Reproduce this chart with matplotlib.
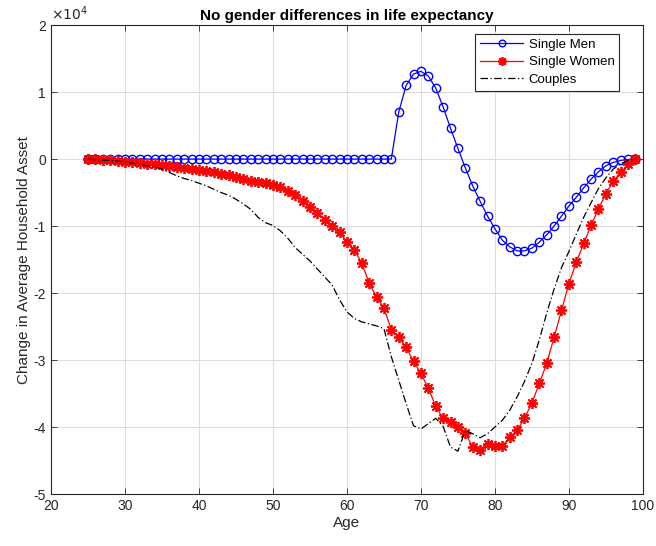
import numpy as np
import matplotlib
matplotlib.use("Agg")
import matplotlib.pyplot as plt
from matplotlib.ticker import FuncFormatter

plt.rcParams['font.family'] = ['Liberation Sans', 'DejaVu Sans']

ages = list(range(25, 100))

# values in units of 1e4
single_men = [0.0] * 42 + [
    0.70, 1.10, 1.27, 1.31, 1.24, 1.06, 0.78, 0.46, 0.16, -0.13,
    -0.40, -0.63, -0.85, -1.04, -1.21, -1.31, -1.37, -1.37, -1.33, -1.24,
    -1.13, -1.00, -0.85, -0.70, -0.57, -0.43, -0.30, -0.19, -0.10, -0.05,
    -0.02, -0.005, 0.0]

single_women = [
    0.0, -0.005, -0.01, -0.02, -0.03, -0.04, -0.05, -0.06, -0.07, -0.08,
    -0.09, -0.10, -0.12, -0.13, -0.15, -0.17, -0.18, -0.20, -0.22, -0.24,
    -0.26, -0.29, -0.32, -0.34, -0.35, -0.38, -0.42, -0.47, -0.54, -0.62,
    -0.72, -0.80, -0.91, -1.00, -1.09, -1.24, -1.36, -1.55, -1.85, -2.06,
    -2.22, -2.55, -2.66, -2.81, -3.02, -3.20, -3.42, -3.69, -3.87, -3.92,
    -4.00, -4.09, -4.30, -4.34, -4.25, -4.29, -4.29, -4.15, -4.05, -3.87,
    -3.64, -3.35, -3.05, -2.66, -2.26, -1.86, -1.54, -1.26, -0.99, -0.74,
    -0.52, -0.33, -0.20, -0.08, 0.0]

couples = [
    0.0, -0.01, -0.015, -0.02, -0.03, -0.04, -0.06, -0.08, -0.10, -0.12,
    -0.15, -0.20, -0.25, -0.29, -0.32, -0.36, -0.40, -0.45, -0.50, -0.54,
    -0.60, -0.67, -0.75, -0.87, -0.95, -0.99, -1.07, -1.18, -1.32, -1.42,
    -1.52, -1.64, -1.76, -1.88, -2.10, -2.28, -2.38, -2.43, -2.46, -2.49,
    -2.53, -2.95, -3.30, -3.65, -3.98, -4.03, -3.95, -3.87, -3.99, -4.30,
    -4.36, -4.05, -4.10, -4.16, -4.10, -4.00, -3.90, -3.75, -3.55, -3.32,
    -3.05, -2.70, -2.30, -1.94, -1.62, -1.38, -1.12, -0.87, -0.65, -0.44,
    -0.28, -0.15, -0.07, -0.02, 0.0]

scale = 1e4
men = np.array(single_men) * scale
women = np.array(single_women) * scale
coup = np.array(couples) * scale

fig = plt.figure(figsize=(6.56, 5.46), dpi=100)
ax = fig.add_axes([0.0777, 0.0952, 0.9023, 0.8588])

ax.plot(ages, men, color="#0000ff", linewidth=0.9, marker="o", markersize=6,
        markerfacecolor="none", markeredgewidth=1.0, label="Single Men")
ax.plot(ages, women, color="#ff0000", linewidth=0.9, marker=(8, 2, 0),
        markersize=8, markeredgewidth=1.3, label="Single Women")
ax.plot(ages, coup, color="black", linewidth=0.9, linestyle="-.",
        dashes=(6, 2, 1, 2), label="Couples")

ax.set_xlim(20, 100)
ax.set_ylim(-5e4, 2e4)
ax.set_xticks(range(20, 101, 10))
ax.set_yticks(np.arange(-5, 3, 1) * scale)
ax.yaxis.set_major_formatter(FuncFormatter(lambda v, p: "%g" % (v / scale)))
ax.tick_params(direction="in", length=4, labelsize=10, colors="#262626",
               top=True, right=True, width=0.6)
for s in ax.spines.values():
    s.set_linewidth(0.8)
    s.set_color("#262626")
ax.grid(True, color="#dcdcdc", linewidth=0.7)
ax.set_axisbelow(True)

ax.text(0.0, 1.005, r"$\times10^{4}$", transform=ax.transAxes, fontsize=10,
        color="#262626", ha="left", va="bottom")
ax.set_title("No gender differences in life expectancy", fontsize=11,
             fontweight="bold", pad=4)
ax.set_xlabel("Age", fontsize=11, color="#262626", labelpad=2)
ax.set_ylabel("Change in Average Household Asset", fontsize=11,
              color="#262626", labelpad=2)

leg = ax.legend(loc="upper right", bbox_to_anchor=(0.96, 0.981), fontsize=9.5,
                fancybox=False, framealpha=1, edgecolor="#262626",
                handlelength=3.3, handletextpad=0.4, borderpad=0.35,
                labelspacing=0.4, borderaxespad=0.0, numpoints=1,
                markerscale=0.8)
leg.get_frame().set_linewidth(0.8)

fig.savefig("out.png", dpi=100)
